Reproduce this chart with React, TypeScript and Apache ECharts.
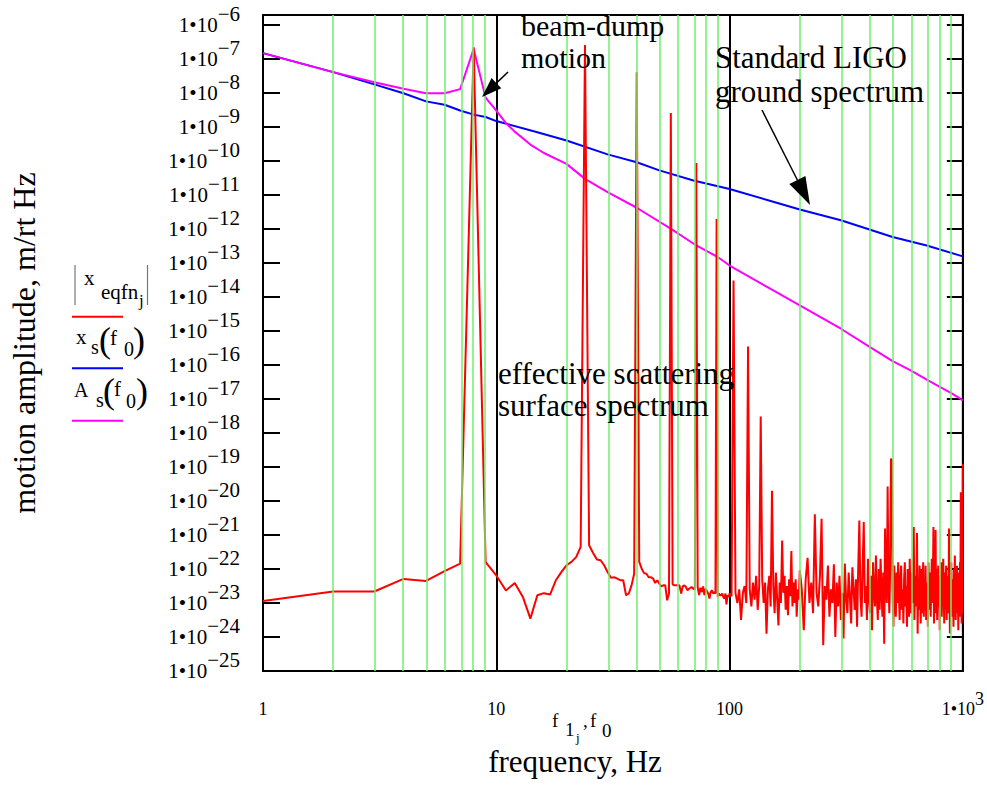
import React, { useEffect, useRef } from 'react';
import * as echarts from 'echarts';

const SERIF = '"Liberation Serif", "Times New Roman", serif';

// ---- axes ----
const xMinExp = 0; // 1 Hz
const xMaxExp = 3; // 1000 Hz
const yMinExp = -25;
const yMaxValue = 2e-6;
const xTickLabels = ['1', '10', '100', '1•10'];
const xTickSuperscripts = ['', '', '', '3'];
const greenGridFreqs = [2, 3, 4, 5, 6, 7, 8, 9, 20, 30, 40, 50, 60, 70, 80, 90, 200, 300, 400, 500, 600, 700, 800, 900];

// ---- Standard LIGO ground spectrum x_s(f0)  (log10 of amplitude) ----
const blueFreq = [1, 2, 3, 4, 5, 6, 7, 8, 9, 10, 15, 20, 30, 40, 50, 70, 100, 150, 200, 300, 500, 700, 1000];
const blueExp = [-6.82, -7.38, -7.74, -8.0, -8.24, -8.34, -8.51, -8.63, -8.7, -8.82, -9.15, -9.39, -9.8, -10.03, -10.27, -10.57, -10.82, -11.17, -11.42, -11.74, -12.23, -12.48, -12.8];

// ---- A_s(f0) ----
const magentaFreq = [1, 2, 3, 4, 5, 6, 7, 8, 9, 10, 11, 12, 14, 16, 20, 24, 30, 40, 57, 72, 89, 100, 150, 200, 300, 400, 500, 600, 700, 800, 900, 1000];
const magentaExp = [-6.82, -7.38, -7.68, -7.87, -8.0, -8.0, -7.88, -6.7, -8.13, -8.51, -8.88, -9.13, -9.51, -9.76, -10.08, -10.52, -10.91, -11.37, -12.02, -12.48, -12.82, -13.07, -13.76, -14.24, -14.93, -15.47, -15.88, -16.16, -16.43, -16.65, -16.84, -17.04];

// ---- |x_eqfn_j| effective scattering surface spectrum (log10 of amplitude) ----
// 1..100 Hz, 1 Hz steps
const redExpLow = [
  -22.94, -22.66, -22.66, -22.29, -22.35, -22.06, -21.84, -6.65, -21.8, -22.19,
  -22.63, -22.41, -22.82, -23.46, -22.77, -22.71, -22.75, -22.33, -22.09, -21.89,
  -21.79, -21.65, -21.35, -6.58, -21.3, -21.53, -21.72, -21.74, -21.89, -22.09,
  -22.26, -22.24, -22.28, -22.33, -22.33, -22.77, -22.72, -22.48, -22.14, -7.38,
  -21.79, -21.99, -22.12, -22.14, -22.24, -22.24, -22.28, -22.41, -22.33, -22.43,
  -22.51, -22.48, -22.48, -22.92, -22.72, -8.58, -22.45, -22.48, -22.48, -22.48,
  -22.48, -22.72, -22.51, -22.48, -22.53, -22.63, -22.58, -22.55, -22.53, -22.58,
  -22.6, -10.05, -22.53, -22.77, -22.55, -22.68, -22.51, -22.77, -22.58, -22.65,
  -22.72, -22.87, -22.68, -22.63, -22.72, -22.68, -22.72, -11.7, -22.82, -22.72,
  -22.77, -22.77, -22.72, -22.82, -22.87, -22.72, -23.04, -22.77, -22.82, -22.72,
];
// 102..200 Hz, 2 Hz steps
const redExpMid = [
  -22.8, -13.51, -22.7, -23.0, -22.6, -23.5, -22.7, -22.5, -23.0, -15.45,
  -22.6, -23.1, -22.4, -22.9, -22.2, -23.2, -22.5, -17.51, -22.3, -23.0,
  -22.4, -23.9, -22.6, -22.2, -23.1, -19.7, -22.5, -23.3, -22.1, -22.9,
  -23.66, -22.4, -23.0, -21.16, -22.7, -22.2, -23.2, -22.5, -23.36, -22.3,
  -22.8, -21.47, -23.1, -22.4, -23.0, -22.3, -23.4, -22.6, -22.9, -22.04,
];
// 204..1000 Hz, 4 Hz steps
const redExpHigh = [
  -22.6, -23.8, -22.3, -21.67, -23.0, -22.4, -23.3, -20.39, -22.7, -23.1,
  -22.2, -20.52, -24.24, -22.5, -22.9, -21.9, -23.4, -22.6, -23.0, -21.86,
  -24.0, -22.4, -23.1, -22.2, -23.5, -22.7, -24.04, -21.84, -22.9, -23.3,
  -22.1, -22.8, -23.6, -21.95, -22.6, -23.2, -22.3, -23.7, -22.0, -20.57,
  -22.8, -23.4, -21.9, -20.62, -23.0, -22.5, -23.5, -21.7, -22.9, -23.3,
  -22.2, -23.8, -21.8, -22.7, -23.1, -21.6, -22.9, -23.5, -22.0, -23.2,
  -21.7, -22.6, -23.4, -22.1, -24.2, -20.81, -22.5, -23.0, -19.57, -22.4,
  -23.3, -22.0, -18.75, -18.8, -22.6, -23.7, -21.9, -22.8, -23.4, -22.1,
  -23.0, -21.8, -22.7, -23.5, -22.2, -21.9, -23.2, -22.6, -23.6, -22.3,
  -21.8, -23.1, -22.5, -23.7, -22.0, -22.8, -23.4, -21.7, -22.9, -23.3,
  -22.1, -23.0, -22.4, -20.76, -23.5, -22.2, -23.1, -22.6, -20.94, -23.9,
  -22.3, -23.2, -21.9, -22.8, -23.6, -22.0, -23.3, -22.5, -21.8, -23.4,
  -22.7, -23.0, -21.9, -23.5, -22.4, -22.9, -23.7, -21.8, -22.6, -23.2,
  -22.1, -23.4, -22.5, -21.7, -23.0, -22.3, -20.76, -23.6, -22.2, -22.9,
  -20.85, -23.3, -22.0, -23.5, -22.6, -21.9, -23.1, -22.4, -23.8, -22.2,
  -22.8, -21.8, -23.4, -22.5, -23.0, -21.7, -22.7, -23.6, -22.1, -23.2,
  -22.4, -21.9, -23.5, -22.6, -23.0, -22.2, -23.3, -20.81, -22.5, -23.9,
  -22.1, -23.1, -21.8, -22.7, -23.4, -22.3, -22.9, -23.7, -22.0, -23.2,
  -21.6, -22.8, -23.5, -22.2, -23.0, -21.9, -23.3, -22.6, -23.8, -22.1,
  -22.7, -23.4, -21.8, -23.0, -19.74, -22.5, -23.6, -22.2, -23.3, -18.9,
];
const redFreq = [
  ...redExpLow.map((_, i) => 1 + i),
  ...redExpMid.map((_, i) => 102 + 2 * i),
  ...redExpHigh.map((_, i) => 204 + 4 * i),
];
const redExp = [...redExpLow, ...redExpMid, ...redExpHigh];

const toPoints = (freq: number[], exp: number[]) => freq.map((f, i) => [Math.log10(f), exp[i]]);

function txt(text: string, x: number, y: number, size: number, align: string = 'left', vAlign: string = 'middle') {
  return {
    type: 'text',
    x,
    y,
    silent: true,
    style: {
      text,
      font: `${size}px ${SERIF}`,
      fill: '#000',
      align,
      verticalAlign: vAlign,
      textAlign: align,
      textVerticalAlign: vAlign,
    },
  };
}

function seg(x1: number, y1: number, x2: number, y2: number, stroke: string, lineWidth: number) {
  return { type: 'line', silent: true, shape: { x1, y1, x2, y2 }, style: { stroke, lineWidth } };
}

function arrow(x1: number, y1: number, x2: number, y2: number, len: number, half: number) {
  const dx = x2 - x1;
  const dy = y2 - y1;
  const d = Math.hypot(dx, dy);
  const ux = dx / d;
  const uy = dy / d;
  const bx = x2 - ux * len;
  const by = y2 - uy * len;
  return [
    seg(x1, y1, bx, by, '#000', 1.5),
    {
      type: 'polygon',
      silent: true,
      shape: { points: [[x2, y2], [bx - uy * half, by + ux * half], [bx + uy * half, by - ux * half]] },
      style: { fill: '#000' },
    },
  ];
}

export default function App() {
  const ref = useRef<HTMLDivElement>(null);
  useEffect(() => {
    if (!ref.current) return;
    const chart = echarts.init(ref.current, undefined, { renderer: 'svg' });
    const yMaxExp = Math.log10(yMaxValue);

    const yRich = {
      a: { fontSize: 21, fontFamily: SERIF, color: '#000' },
      b: { fontSize: 21, fontFamily: SERIF, color: '#000', padding: [0, 0, 23, 0] },
    };
    const xRich = {
      a: { fontSize: 18, fontFamily: SERIF, color: '#000' },
      b: { fontSize: 18, fontFamily: SERIF, color: '#000', padding: [0, 0, 20, 0] },
    };

    const graphic: any[] = [
      // annotations
      txt('beam-dump', 521, 25, 30),
      txt('motion', 521, 57, 30),
      txt('Standard LIGO', 715, 57, 31),
      txt('ground spectrum', 715, 91, 31),
      txt('effective scattering', 498, 373, 31),
      txt('surface spectrum', 498, 405, 31),
      ...arrow(508, 72, 482, 97, 20, 7),
      ...arrow(762, 110, 810, 205, 28, 9),
      // x axis variable label
      txt('f', 552, 720, 19),
      txt('1', 565, 729, 19),
      txt('j', 576, 737, 13),
      txt(',', 583, 720, 19),
      txt('f', 590, 720, 19),
      txt('0', 602, 730, 19),
      txt('frequency, Hz', 575, 761, 31, 'center'),
      // legend
      seg(75, 265, 75, 305, '#777', 1.2),
      seg(147.5, 265, 147.5, 305, '#777', 1.2),
      txt('x', 84, 278, 21),
      txt('eqfn', 101, 292, 21),
      txt('j', 139, 300, 17),
      seg(72, 316.7, 123, 316.7, '#ff0000', 2),
      txt('x', 76, 337, 21),
      txt('s', 91, 347, 20),
      txt('(', 99, 340, 36),
      txt('f', 110, 338, 21),
      txt('0', 124, 349, 20),
      txt(')', 133, 340, 36),
      seg(72, 368.3, 123, 368.3, '#0000ff', 2),
      txt('A', 74, 390, 20),
      txt('s', 96, 400, 20),
      txt('(', 103, 391, 36),
      txt('f', 114, 389, 21),
      txt('0', 126, 401, 20),
      txt(')', 136, 391, 36),
      seg(72, 420.7, 123, 420.7, '#ff00ff', 2),
    ];

    chart.setOption({
      animation: false,
      backgroundColor: '#fff',
      textStyle: { fontFamily: SERIF },
      grid: {
        left: 256,
        top: 15,
        width: 708,
        height: 656,
        show: true,
        borderColor: '#000',
        borderWidth: 2,
        backgroundColor: 'transparent',
      },
      xAxis: {
        type: 'value',
        min: xMinExp,
        max: xMaxExp,
        interval: 1,
        axisLine: { show: true, lineStyle: { color: '#000', width: 2 } },
        axisTick: { show: false },
        splitLine: { show: true, lineStyle: { color: '#000', width: 2 } },
        axisLabel: {
          margin: 19,
          formatter: (v: number) => {
            const i = Math.round(v);
            const sup = xTickSuperscripts[i];
            if (sup) return `{a|${xTickLabels[i]}}{b|${sup}}`;
            return `{b| }{a|${xTickLabels[i]}}{b| }`;
          },
          rich: xRich,
        },
      },
      yAxis: [
        {
          type: 'value',
          position: 'left',
          min: yMinExp,
          max: yMaxExp,
          interval: 1,
          axisLine: { show: true, lineStyle: { color: '#000', width: 2 } },
          axisTick: { show: true, inside: true, length: 17, lineStyle: { color: '#000', width: 2 } },
          splitLine: { show: false },
          axisLabel: {
            margin: 23,
            showMaxLabel: false,
            formatter: (v: number) => {
              const r = Math.round(v);
              if (Math.abs(v - r) > 1e-6) return '';
              return `{a|1•10}{b|−${-r}}`;
            },
            rich: yRich,
          },
          name: 'motion amplitude, m/rt Hz',
          nameLocation: 'middle',
          nameGap: 223,
          nameRotate: 90,
          nameTextStyle: { fontSize: 32, fontFamily: SERIF, color: '#000' },
        },
        {
          type: 'value',
          position: 'right',
          min: yMinExp,
          max: yMaxExp,
          interval: 1,
          axisLine: { show: true, lineStyle: { color: '#000', width: 2 } },
          axisTick: { show: true, inside: true, length: 16, lineStyle: { color: '#000', width: 2 } },
          splitLine: { show: false },
          axisLabel: { show: false },
        },
      ],
      series: [
        {
          name: 'grid',
          type: 'line',
          data: [],
          z: 1,
          silent: true,
          markLine: {
            silent: true,
            symbol: ['none', 'none'],
            label: { show: false },
            lineStyle: { color: '#6cf06c', width: 1.5, type: 'solid' },
            data: greenGridFreqs.map((f) => ({ xAxis: Math.log10(f) })),
          },
        },
        {
          name: 'x_s(f0)',
          type: 'line',
          data: toPoints(blueFreq, blueExp),
          showSymbol: false,
          lineStyle: { color: '#0000ff', width: 2 },
          itemStyle: { color: '#0000ff' },
          z: 3,
        },
        {
          name: 'A_s(f0)',
          type: 'line',
          data: toPoints(magentaFreq, magentaExp),
          showSymbol: false,
          lineStyle: { color: '#ff00ff', width: 2 },
          itemStyle: { color: '#ff00ff' },
          z: 3,
        },
        {
          name: '|x_eqfn_j|',
          type: 'line',
          data: toPoints(redFreq, redExp),
          showSymbol: false,
          lineStyle: { color: '#ff0000', width: 2 },
          itemStyle: { color: '#ff0000' },
          z: 4,
        },
      ],
      graphic: { elements: graphic.map((g) => ({ ...g, z: 10 })) },
    });
    return () => chart.dispose();
  }, []);
  return (
    <div
      ref={ref}
      style={{ position: 'absolute', left: 0, top: 0, width: 987, height: 789, background: '#fff' }}
    />
  );
}
